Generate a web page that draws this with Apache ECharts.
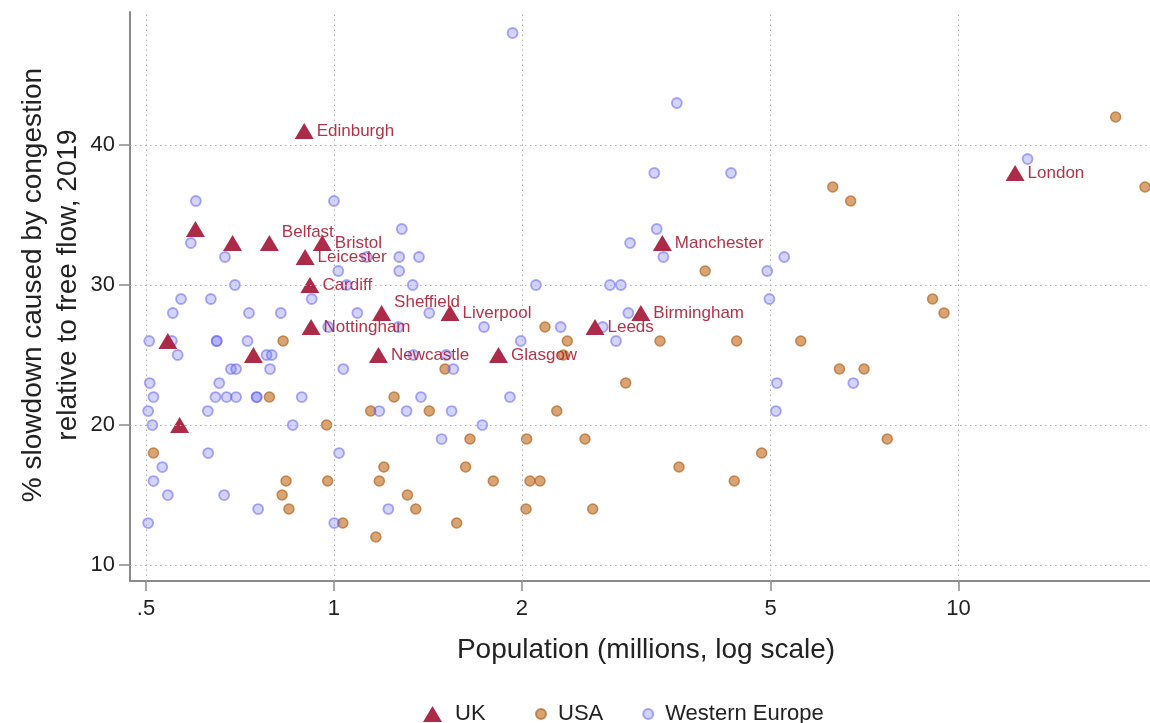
<!DOCTYPE html>
<html>
<head>
<meta charset="utf-8">
<script src="https://cdn.jsdelivr.net/npm/echarts@6/dist/echarts.min.js"></script>
<style>
html,body{margin:0;padding:0;background:#fff;}
#chart{width:1150px;height:723px;}
</style>
</head>
<body>
<div id="chart"></div>
<script>
// ---- Data (population in millions, % slowdown) ----
const ukNames = ['Edinburgh','','','Belfast','Bristol','Leicester','Cardiff','Sheffield','Liverpool','Nottingham','','','Newcastle','Glasgow','Leeds','Birmingham','Manchester','London',''];
const ukPop   = [0.896,0.60,0.688,0.788,0.958,0.899,0.915,1.192,1.534,0.919,0.542,0.743,1.178,1.834,2.618,3.10,3.356,12.32,0.566];
const ukSlow  = [41,34,33,33,33,32,30,28,28,27,26,25,25,25,27,28,33,38,20];

const usaPop  = [0.514,0.829,0.788,0.973,1.248,1.145,1.421,0.838,0.977,0.826,0.847,1.033,1.167,1.202,1.182,1.311,1.352,2.177,2.364,2.33,1.506,2.274,1.651,2.035,2.523,4.84,1.625,3.568,1.799,2.06,2.137,4.375,2.03,2.596,1.572,6.29,6.72,3.93,3.327,4.414,5.59,2.932,6.447,7.06,17.85,19.89,9.09,9.48,7.69];
const usaSlow = [18,26,22,20,22,21,21,16,16,15,14,13,12,17,16,15,14,27,26,25,24,21,19,19,19,18,17,17,16,16,16,16,14,14,13,37,36,31,26,26,26,23,24,24,42,37,29,28,19];

const wePop  = [0.601,1.0,0.59,1.284,0.669,1.272,1.368,1.128,1.016,1.272,0.694,1.048,1.337,0.569,0.635,0.921,0.552,0.731,0.822,1.090,1.421,0.979,1.268,0.506,0.649,0.649,0.727,0.55,0.562,0.780,0.795,1.035,0.684,0.697,0.790,0.507,0.655,0.514,0.646,0.673,0.697,0.752,0.752,0.888,0.504,0.628,0.512,0.859,1.378,1.182,1.307,0.629,0.531,0.514,0.542,0.667,0.756,0.504,1.001,1.019,1.222,2.106,2.767,2.88,1.739,2.307,2.693,1.991,2.829,1.34,1.512,1.553,1.913,1.543,1.728,1.487,5.10,3.258,4.323,3.287,2.979,3.368,5.26,4.94,4.98,2.96,5.12,6.785,12.9,1.932,3.54];
const weSlow = [36,36,33,34,32,32,32,32,31,31,30,30,30,29,29,29,28,28,28,28,28,27,27,26,26,26,26,26,25,25,25,24,24,24,24,23,23,22,22,22,22,22,22,22,21,21,20,20,22,21,21,18,17,16,15,15,14,13,13,18,14,30,30,30,27,27,27,26,26,25,25,24,22,21,20,19,21,38,38,34,33,32,32,31,29,28,23,23,39,48,43];

const xTicks = [0.5, 1, 2, 5, 10];
const yTicks = [10, 20, 30, 40];

// ---- Styles ----
const ukColor = '#a8203f';
const raisedLabels = {Belfast: -11, Sheffield: -11};

const ukData = ukPop.map((p, i) => ({value: [p, ukSlow[i]], name: ukNames[i]}));
const usaData = usaPop.map((p, i) => [p, usaSlow[i]]);
const weData = wePop.map((p, i) => [p, weSlow[i]]);

const fontFam = '"Liberation Sans", Arial, Helvetica, sans-serif';
const gridLineStyle = {color: '#b0b0b0', width: 1, type: [1.5, 3.5]};

const chart = echarts.init(document.getElementById('chart'), null, {renderer: 'canvas'});
const option = {
  animation: false,
  backgroundColor: '#ffffff',
  textStyle: {fontFamily: fontFam},
  grid: {left: 130, right: 0, top: 12, bottom: 142, containLabel: false},
  xAxis: {
    type: 'log', logBase: 10, min: 0.4714, max: 20.26,
    axisLine: {show: true, onZero: false, lineStyle: {color: '#8a8a8a', width: 2}},
    axisTick: {show: true, customValues: xTicks, length: 10, lineStyle: {color: '#8a8a8a', width: 1.5}},
    axisLabel: {
      show: true, customValues: xTicks, margin: 17,
      fontSize: 22, color: '#222', fontFamily: fontFam,
      formatter: function (v) {
        const r = Math.round(v * 10) / 10;
        return r < 1 ? String(r).replace(/^0/, '') : String(r);
      }
    },
    splitLine: {show: false},
    minorTick: {show: false},
    minorSplitLine: {show: false}
  },
  yAxis: {
    type: 'value', min: 8.86, max: 49.5,
    axisLine: {show: true, onZero: false, lineStyle: {color: '#8a8a8a', width: 2}},
    axisTick: {show: true, customValues: yTicks, length: 11, lineStyle: {color: '#8a8a8a', width: 1.5}},
    axisLabel: {show: true, customValues: yTicks, margin: 15, fontSize: 22, color: '#222', fontFamily: fontFam},
    splitLine: {show: false}
  },
  legend: [
    {
      data: [{name: 'UK', icon: 'triangle'}],
      left: 418, top: 698, itemWidth: 19, itemHeight: 16, itemGap: 0,
      textStyle: {fontSize: 22, color: '#222', fontFamily: fontFam, padding: [0, 0, 0, 8]}
    },
    {
      data: [{name: 'USA', icon: 'circle'}, {name: 'Western Europe', icon: 'circle'}],
      left: 530, top: 698, itemWidth: 10, itemHeight: 10, itemGap: 39,
      textStyle: {fontSize: 22, color: '#222', fontFamily: fontFam, padding: [0, 0, 0, 7]}
    }
  ],
  graphic: [
    {
      type: 'text', x: 51, y: 285, rotation: Math.PI / 2,
      style: {
        text: '% slowdown caused by congestion\nrelative to free flow, 2019',
        font: '28px ' + fontFam, fill: '#222', align: 'center', verticalAlign: 'middle', lineHeight: 35
      }
    },
    {
      type: 'text', x: 646, y: 650,
      style: {
        text: 'Population (millions, log scale)',
        font: '28px ' + fontFam, fill: '#222', align: 'center', verticalAlign: 'middle'
      }
    }
  ],
  series: [
    {
      name: 'grid', type: 'scatter', data: [], z: 1, silent: true,
      markLine: {
        silent: true, symbol: 'none', animation: false,
        label: {show: false},
        lineStyle: gridLineStyle,
        emphasis: {disabled: true},
        data: xTicks.map(v => ({xAxis: v})).concat(yTicks.map(v => ({yAxis: v})))
      }
    },
    {
      name: 'USA', type: 'scatter', z: 2, data: usaData, symbol: 'circle', symbolSize: 10,
      itemStyle: {color: 'rgba(198,122,50,0.85)', borderColor: 'rgba(180,105,40,0.92)', borderWidth: 1.5}
    },
    {
      name: 'Western Europe', type: 'scatter', z: 3, data: weData, symbol: 'circle', symbolSize: 10,
      itemStyle: {color: 'rgba(110,110,245,0.38)', borderColor: 'rgba(100,100,240,0.68)', borderWidth: 1.8}
    },
    {
      name: 'UK', type: 'scatter', z: 4, data: ukData, symbol: 'triangle', symbolSize: [19, 16],
      itemStyle: {color: ukColor, opacity: 0.95},
      label: {
        show: true, position: 'right', distance: 3,
        formatter: p => p.name, fontSize: 17, color: '#b0283f', fontFamily: fontFam
      },
      labelLayout: function (params) {
        const dy = raisedLabels[ukNames[params.dataIndex]];
        return dy ? {dy: dy, hideOverlap: false} : {hideOverlap: false};
      }
    }
  ]
};
chart.setOption(option);
</script>
</body>
</html>
